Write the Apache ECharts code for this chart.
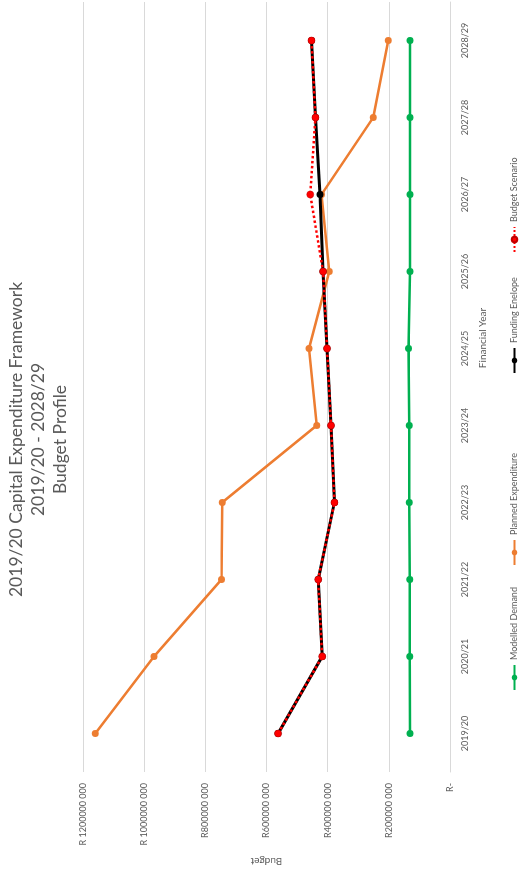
<!DOCTYPE html>
<html><head><meta charset="utf-8">
<script src="https://cdn.jsdelivr.net/npm/echarts@6/dist/echarts.min.js"></script>
<style>
html,body{margin:0;padding:0;background:#fff;overflow:hidden;width:519px;height:879px;}
#chart{position:absolute;left:0;top:0;width:879px;height:519px;transform-origin:0 0;transform:translate(0,879px) rotate(-90deg);}
</style></head>
<body><div id="chart"></div>
<script>
const categories = ['2019/20','2020/21','2021/22','2022/23','2023/24','2024/25','2025/26','2026/27','2027/28','2028/29'];
const modelledDemand = [131e6,132e6,132e6,133e6,133e6,136e6,131e6,131e6,131e6,131e6];
const plannedExpenditure = [1160e6,968e6,747e6,745e6,436e6,461e6,395e6,420e6,251e6,202e6];
const fundingEnvelope = [562e6,418e6,431e6,378e6,389e6,402e6,415e6,425e6,440e6,453e6];
const budgetScenario = [562e6,418e6,431e6,378e6,389e6,402e6,415e6,457e6,440e6,453e6];
const valueTicks = [0,200e6,400e6,600e6,800e6,1000e6,1200e6];
const valueTickLabels = ['R-','R200000 000','R400000 000','R600000 000','R800000 000','R 1000000 000','R 1200000 000'];
const seriesNames = ['Modelled Demand','Planned Expenditure','Funding Enelope','Budget Scenario'];

const FONT = 'Lato';
const GREY = '#595959';
const legendLefts = [183, 308, 500, 621];
const legends = seriesNames.map(function(n,i){
  return {data:[n], left:legendLefts[i], bottom:-5, itemWidth:25, itemHeight:7,
    textStyle:{fontFamily:FONT,fontSize:9,color:GREY}};
});
const chart = echarts.init(document.getElementById('chart'), null, {renderer:'canvas', width:879, height:519});
chart.setOption({
  animation:false,
  backgroundColor:'#fff',
  textStyle:{fontFamily:FONT},
  title:{
    text:'2019/20 Capital Expenditure Framework\n2019/20 - 2028/29\nBudget Profile',
    left:'center', top:0,
    textStyle:{fontFamily:FONT,fontSize:17.5,fontWeight:'normal',color:GREY,lineHeight:22,align:'center'}
  },
  legend:legends,
  graphic:[{
    type:'text', x:541, y:483,
    style:{text:'Financial Year', fontFamily:FONT, fontSize:10, fill:GREY, textAlign:'center', textVerticalAlign:'middle'}
  }],
  grid:{left:107,right:2,top:83,bottom:69,containLabel:false},
  xAxis:{
    type:'category', data:categories, boundaryGap:true,
    axisLine:{show:true,lineStyle:{color:'#D9D9D9',width:1}},
    axisTick:{show:false},
    axisLabel:{color:GREY,fontFamily:FONT,fontSize:9,margin:11},
    splitLine:{show:false}
  },
  yAxis:{
    type:'value', min:0, max:1200e6, interval:200e6,
    name:'Budget', nameLocation:'middle', nameRotate:90, nameGap:84,
    nameTextStyle:{color:GREY,fontFamily:FONT,fontSize:10},
    axisLine:{show:false}, axisTick:{show:false},
    axisLabel:{color:GREY,fontFamily:FONT,fontSize:9,margin:11,
      formatter:function(v){const i=valueTicks.indexOf(v);return i>=0?valueTickLabels[i]:'';}},
    splitLine:{show:true,lineStyle:{color:'#D9D9D9',width:1}}
  },
  series:[
    {name:seriesNames[0],type:'line',data:modelledDemand,symbol:'circle',symbolSize:7,
      lineStyle:{color:'#00B050',width:2.5},itemStyle:{color:'#00B050'},z:2},
    {name:seriesNames[1],type:'line',data:plannedExpenditure,symbol:'circle',symbolSize:7,
      lineStyle:{color:'#ED7D31',width:2.5},itemStyle:{color:'#ED7D31'},z:3},
    {name:seriesNames[2],type:'line',data:fundingEnvelope,symbol:'circle',symbolSize:7,
      lineStyle:{color:'#000000',width:3},itemStyle:{color:'#000000'},z:4},
    {name:seriesNames[3],type:'line',data:budgetScenario,symbol:'circle',symbolSize:7,
      lineStyle:{color:'#FF0000',width:2.5,type:'dotted'},itemStyle:{color:'#FF0000',borderColor:'#C00000',borderWidth:0.5},z:5}
  ]
});
</script></body></html>
